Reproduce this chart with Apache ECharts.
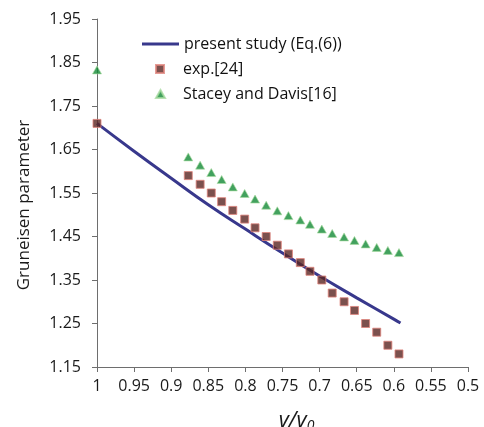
<!DOCTYPE html>
<html>
<head>
<meta charset="utf-8">
<script src="https://cdn.jsdelivr.net/npm/echarts@6/dist/echarts.min.js"></script>
<style>html,body{margin:0;padding:0;background:#fff;}#c{width:484px;height:427px;}</style>
</head>
<body>
<div id="c"></div>
<script>
// Present study (Eq.(6)) curve
const modelX = [1.0, 0.95, 0.9, 0.85, 0.8, 0.75, 0.7, 0.65, 0.6, 0.591];
const modelY = [1.710, 1.646, 1.584, 1.523, 1.467, 1.412, 1.359, 1.309, 1.260, 1.251];
// exp.[24]
const expX = [1.0, 0.877, 0.861, 0.846, 0.832, 0.817, 0.801, 0.787, 0.772, 0.757, 0.742, 0.726, 0.713, 0.697, 0.683, 0.667, 0.653, 0.638, 0.623, 0.608, 0.593];
const expY = [1.71, 1.59, 1.57, 1.55, 1.53, 1.51, 1.49, 1.47, 1.45, 1.43, 1.41, 1.39, 1.37, 1.35, 1.32, 1.30, 1.28, 1.25, 1.23, 1.20, 1.18];
// Stacey and Davis[16]
const sdX = expX;
const sdY = [1.833, 1.633, 1.614, 1.597, 1.581, 1.564, 1.549, 1.536, 1.522, 1.509, 1.498, 1.488, 1.478, 1.467, 1.457, 1.449, 1.441, 1.433, 1.425, 1.418, 1.413];

const names = ['present study (Eq.(6))', 'exp.[24]', 'Stacey and Davis[16]'];
const zip = (xs, ys) => xs.map((x, i) => [x, ys[i]]);

const font = 'Open Sans';
const chart = echarts.init(document.getElementById('c'), null, {renderer: 'canvas'});
chart.setOption({
  backgroundColor: '#ffffff',
  animation: false,
  textStyle: {fontFamily: font},
  grid: {left: 97, right: 16, top: 19, bottom: 60, containLabel: false, outerBoundsMode: 'none'},
  legend: [
    {data: [{name: names[0], icon: 'rect'}], left: 142, top: 36, padding: 0, itemWidth: 37, itemHeight: 3, itemTextGap: 4,
     textStyle: {fontFamily: font, fontSize: 16, color: '#111'}},
    {data: [{name: names[1], icon: 'rect'}], left: 155, top: 61, padding: 0, itemWidth: 8, itemHeight: 8, itemTextGap: 4,
     textStyle: {fontFamily: font, fontSize: 16, color: '#111', padding: [0, 0, 0, 14]}},
    {data: [{name: names[2], icon: 'triangle'}], left: 155, top: 86, padding: 0, itemWidth: 9, itemHeight: 8, itemTextGap: 4,
     textStyle: {fontFamily: font, fontSize: 16, color: '#111', padding: [0, 0, 0, 13]}}
  ],
  xAxis: {
    type: 'value', inverse: true, min: 0.5, max: 1, interval: 0.05,
    axisLine: {show: true, lineStyle: {color: '#6e6e6e', width: 1}},
    axisTick: {show: true, inside: false, length: 5, lineStyle: {color: '#6e6e6e'}},
    splitLine: {show: false},
    axisLabel: {fontFamily: font, fontSize: 16, color: '#1a1a1a', margin: 11, showMinLabel: true, showMaxLabel: true},
    name: '{v|v/v}{s|0}', nameLocation: 'middle', nameGap: 42,
    nameTextStyle: {
      padding: [0, 0, 0, 28],
      rich: {
        v: {fontFamily: font, fontStyle: 'italic', fontSize: 22, color: '#1a1a1a'},
        s: {fontFamily: font, fontStyle: 'italic', fontSize: 14, color: '#1a1a1a', padding: [10, 0, 0, 0]}
      }
    }
  },
  yAxis: {
    type: 'value', min: 1.15, max: 1.95, interval: 0.1,
    axisLine: {show: true, lineStyle: {color: '#6e6e6e', width: 1}},
    axisTick: {show: true, inside: false, length: 5, lineStyle: {color: '#6e6e6e'}},
    splitLine: {show: false},
    axisLabel: {fontFamily: font, fontSize: 16, color: '#1a1a1a', margin: 16, formatter: v => v.toFixed(2)},
    name: 'Gruneisen parameter', nameLocation: 'middle', nameGap: 64,
    nameTextStyle: {fontFamily: font, fontSize: 17, color: '#1a1a1a', padding: [0, 24, 0, 0]}
  },
  series: [
    {name: names[0], type: 'line', data: zip(modelX, modelY), smooth: true, symbol: 'none',
     lineStyle: {color: '#38388c', width: 3}, itemStyle: {color: '#38388c'}, z: 2},
    {name: names[1], type: 'scatter', data: zip(expX, expY), symbol: 'rect', symbolSize: 8,
     itemStyle: {color: '#5a2622', borderColor: '#e0837c', borderWidth: 1}, z: 3},
    {name: names[2], type: 'scatter', data: zip(sdX, sdY), symbol: 'triangle', symbolSize: [9, 8],
     itemStyle: {color: '#138a36', borderColor: '#a8dba0', borderWidth: 0.8}, z: 3}
  ]
});
</script>
</body>
</html>
